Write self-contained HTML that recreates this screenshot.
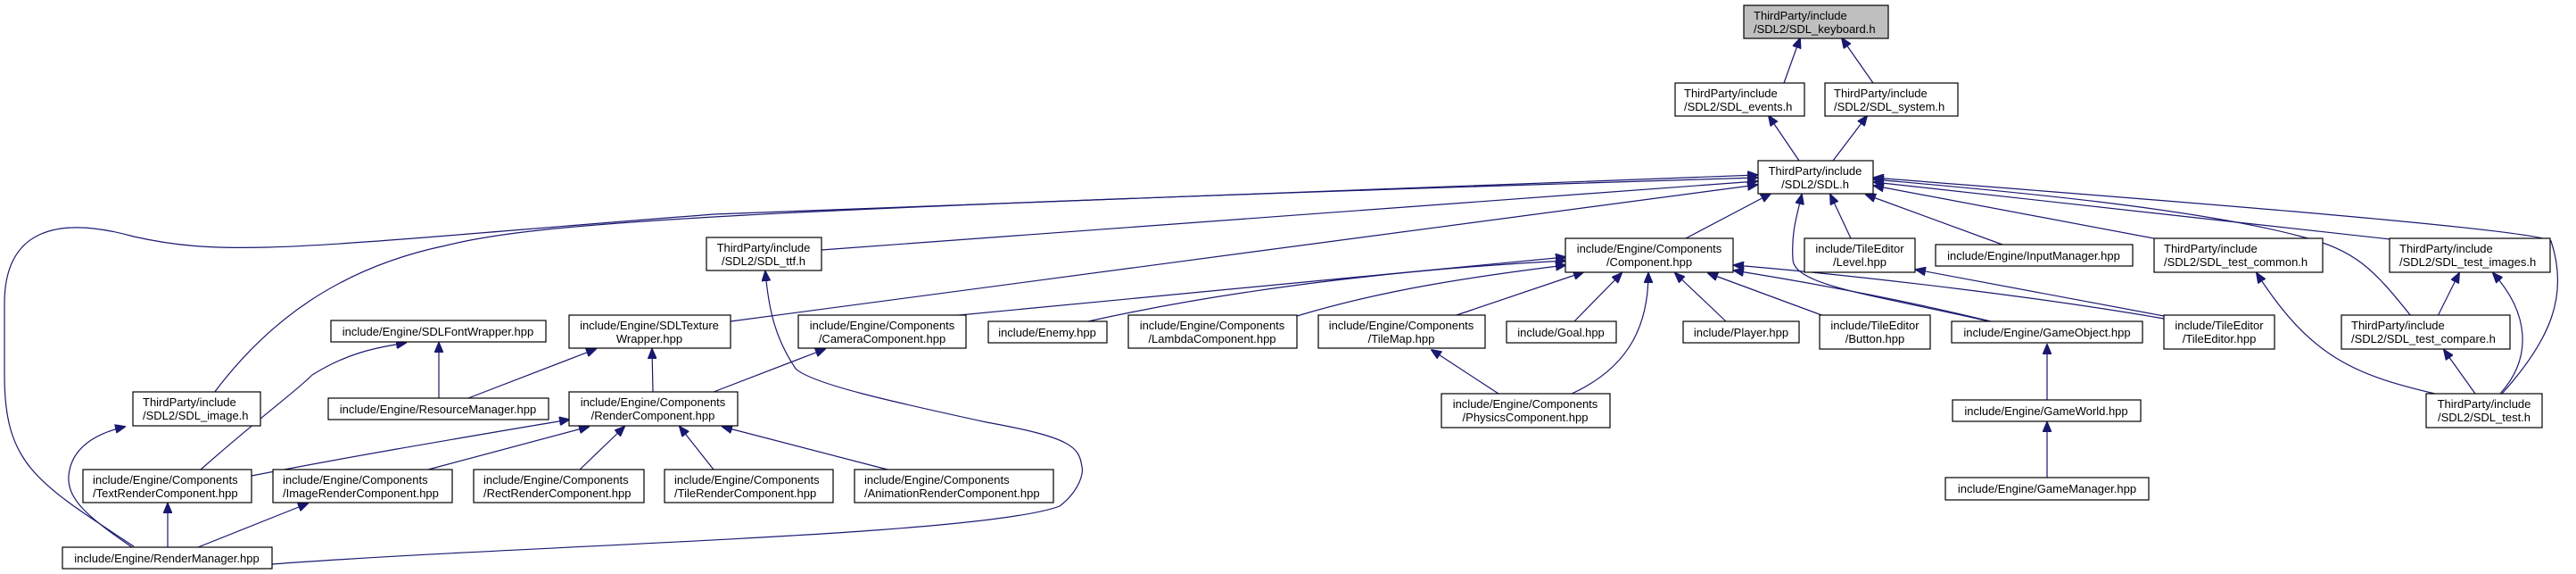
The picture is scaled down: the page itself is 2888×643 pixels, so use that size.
<!DOCTYPE html>
<html><head><meta charset="utf-8"><style>
html,body{margin:0;padding:0;background:#fff;}
svg{display:block;}
text{font-family:"Liberation Sans",sans-serif;font-size:13px;fill:#000;}
.b{fill:#fff;stroke:#000;stroke-width:1.2;}
.e{fill:none;stroke:#191970;stroke-width:1.2;}
</style></head><body>
<svg width="2888" height="643" viewBox="0 0 2888 643" xmlns="http://www.w3.org/2000/svg">
<defs><marker id="a" markerUnits="userSpaceOnUse" markerWidth="12" markerHeight="10" refX="11" refY="5" orient="auto"><path d="M0,0 L12,5 L0,10 z" fill="#191970" stroke="#191970"/></marker></defs>
<g class="e" marker-end="url(#a)">
<path d="M2000,93 L2018,43"/>
<path d="M2100,93 L2065,43"/>
<path d="M2017,180 L1983,130"/>
<path d="M2055,180 L2093,130"/>
<path d="M150,612 C40,540 5,520 5,420 L5,340 C5,260 60,240 150,265 C260,290 350,275 800,240 L1970,196"/>
<path d="M240,440 C300,360 380,300 500,275 C600,250 800,235 1970,199"/>
<path d="M921,280 L1970,203"/>
<path d="M819,360 L1970,207"/>
<path d="M1890,267 L1985,217"/>
<path d="M2230,360 C2100,330 2010,320 2010,290 C2008,260 2015,240 2020,218"/>
<path d="M2075,267 L2052,218"/>
<path d="M2245,274 L2092,218"/>
<path d="M2420,268 L2101,208"/>
<path d="M2680,268 L2101,204"/>
<path d="M2703,354 C2660,300 2640,280 2580,265 C2450,230 2200,210 2101,201"/>
<path d="M2805,441 C2860,380 2880,330 2860,270 C2840,255 2300,215 2101,199"/>
<path d="M1065,354 L1755,288"/>
<path d="M1220,360 C1400,320 1600,300 1755,292"/>
<path d="M1454,354 C1550,325 1650,310 1755,297"/>
<path d="M1630,354 L1775,305"/>
<path d="M1765,360 L1818,306"/>
<path d="M1762,441 C1830,410 1848,360 1848,306"/>
<path d="M1935,360 L1878,306"/>
<path d="M2045,354 L1915,306"/>
<path d="M2232,360 C2150,340 2050,320 1944,303"/>
<path d="M2426,357 C2300,335 2100,310 1944,297"/>
<path d="M2426,354 L2148,302"/>
<path d="M492,446 L492,384"/>
<path d="M525,446 L668,391"/>
<path d="M732,439 L731,391"/>
<path d="M800,439 L925,391"/>
<path d="M1680,441 L1605,392"/>
<path d="M225,526 C300,460 330,440 350,420 C390,395 420,390 455,384"/>
<path d="M282,533 C400,510 520,490 638,470"/>
<path d="M480,526 L660,478"/>
<path d="M650,526 L700,478"/>
<path d="M800,526 L762,478"/>
<path d="M995,526 L810,478"/>
<path d="M148,613 C100,580 75,560 77,533 C80,500 110,485 140,478"/>
<path d="M188,613 L188,564"/>
<path d="M222,613 L345,564"/>
<path d="M305,632 C600,610 1100,600 1188,567 C1210,550 1215,530 1213,523 C1210,500 1200,490 1106,473 C1000,450 910,430 892,413 C870,380 862,350 858,304"/>
<path d="M2295,448 L2295,386"/>
<path d="M2295,535 L2295,473"/>
<path d="M2730,441 C2640,420 2590,400 2530,306"/>
<path d="M2733,354 L2757,306"/>
<path d="M2803,441 C2840,400 2835,350 2795,306"/>
<path d="M2775,441 L2740,392"/>
</g>
<rect x="1955" y="6" width="162" height="37" fill="#bfbfbf" stroke="#000" stroke-width="1.2"/>
<text x="1966" y="22">ThirdParty/include</text><text x="1966" y="37">/SDL2/SDL_keyboard.h</text>
<g>
<rect class="b" x="1878" y="93" width="145" height="37"/><text x="1888" y="109">ThirdParty/include</text><text x="1888" y="124">/SDL2/SDL_events.h</text>
<rect class="b" x="2046" y="93" width="149" height="37"/><text x="2056" y="109">ThirdParty/include</text><text x="2056" y="124">/SDL2/SDL_system.h</text>
<rect class="b" x="1971" y="180" width="129" height="37"/><text x="2035" y="196" text-anchor="middle">ThirdParty/include</text><text x="2035" y="211" text-anchor="middle">/SDL2/SDL.h</text>
<rect class="b" x="792" y="266" width="129" height="37"/><text x="856" y="282" text-anchor="middle">ThirdParty/include</text><text x="856" y="297" text-anchor="middle">/SDL2/SDL_ttf.h</text>
<rect class="b" x="1755" y="267" width="188" height="38"/><text x="1849" y="283" text-anchor="middle">include/Engine/Components</text><text x="1849" y="298" text-anchor="middle">/Component.hpp</text>
<rect class="b" x="2023" y="267" width="124" height="38"/><text x="2085" y="283" text-anchor="middle">include/TileEditor</text><text x="2085" y="298" text-anchor="middle">/Level.hpp</text>
<rect class="b" x="2170" y="274" width="221" height="24"/><text x="2280" y="291" text-anchor="middle">include/Engine/InputManager.hpp</text>
<rect class="b" x="2415" y="267" width="189" height="38"/><text x="2426" y="283">ThirdParty/include</text><text x="2426" y="298">/SDL2/SDL_test_common.h</text>
<rect class="b" x="2679" y="267" width="180" height="38"/><text x="2690" y="283">ThirdParty/include</text><text x="2690" y="298">/SDL2/SDL_test_images.h</text>
<rect class="b" x="371" y="359" width="241" height="24"/><text x="491" y="376" text-anchor="middle">include/Engine/SDLFontWrapper.hpp</text>
<rect class="b" x="638" y="353" width="181" height="37"/><text x="728" y="369" text-anchor="middle">include/Engine/SDLTexture</text><text x="728" y="384" text-anchor="middle">Wrapper.hpp</text>
<rect class="b" x="895" y="353" width="188" height="37"/><text x="989" y="369" text-anchor="middle">include/Engine/Components</text><text x="989" y="384" text-anchor="middle">/CameraComponent.hpp</text>
<rect class="b" x="1108" y="360" width="133" height="24"/><text x="1174" y="377" text-anchor="middle">include/Enemy.hpp</text>
<rect class="b" x="1265" y="353" width="189" height="37"/><text x="1359" y="369" text-anchor="middle">include/Engine/Components</text><text x="1359" y="384" text-anchor="middle">/LambdaComponent.hpp</text>
<rect class="b" x="1478" y="353" width="187" height="37"/><text x="1571" y="369" text-anchor="middle">include/Engine/Components</text><text x="1571" y="384" text-anchor="middle">/TileMap.hpp</text>
<rect class="b" x="1689" y="360" width="123" height="24"/><text x="1750" y="377" text-anchor="middle">include/Goal.hpp</text>
<rect class="b" x="1887" y="360" width="130" height="24"/><text x="1952" y="377" text-anchor="middle">include/Player.hpp</text>
<rect class="b" x="2040" y="353" width="124" height="38"/><text x="2102" y="369" text-anchor="middle">include/TileEditor</text><text x="2102" y="384" text-anchor="middle">/Button.hpp</text>
<rect class="b" x="2188" y="360" width="214" height="24"/><text x="2295" y="377" text-anchor="middle">include/Engine/GameObject.hpp</text>
<rect class="b" x="2426" y="353" width="124" height="38"/><text x="2488" y="369" text-anchor="middle">include/TileEditor</text><text x="2488" y="384" text-anchor="middle">/TileEditor.hpp</text>
<rect class="b" x="2625" y="353" width="189" height="38"/><text x="2636" y="369">ThirdParty/include</text><text x="2636" y="384">/SDL2/SDL_test_compare.h</text>
<rect class="b" x="149" y="439" width="143" height="38"/><text x="160" y="455">ThirdParty/include</text><text x="160" y="470">/SDL2/SDL_image.h</text>
<rect class="b" x="368" y="446" width="247" height="24"/><text x="491" y="463" text-anchor="middle">include/Engine/ResourceManager.hpp</text>
<rect class="b" x="638" y="439" width="189" height="38"/><text x="732" y="455" text-anchor="middle">include/Engine/Components</text><text x="732" y="470" text-anchor="middle">/RenderComponent.hpp</text>
<rect class="b" x="1616" y="441" width="189" height="38"/><text x="1710" y="457" text-anchor="middle">include/Engine/Components</text><text x="1710" y="472" text-anchor="middle">/PhysicsComponent.hpp</text>
<rect class="b" x="2189" y="448" width="211" height="24"/><text x="2294" y="465" text-anchor="middle">include/Engine/GameWorld.hpp</text>
<rect class="b" x="2720" y="441" width="130" height="38"/><text x="2785" y="457" text-anchor="middle">ThirdParty/include</text><text x="2785" y="472" text-anchor="middle">/SDL2/SDL_test.h</text>
<rect class="b" x="93" y="526" width="189" height="37"/><text x="104" y="542">include/Engine/Components</text><text x="104" y="557">/TextRenderComponent.hpp</text>
<rect class="b" x="306" y="526" width="201" height="37"/><text x="317" y="542">include/Engine/Components</text><text x="317" y="557">/ImageRenderComponent.hpp</text>
<rect class="b" x="531" y="526" width="191" height="37"/><text x="542" y="542">include/Engine/Components</text><text x="542" y="557">/RectRenderComponent.hpp</text>
<rect class="b" x="745" y="526" width="189" height="37"/><text x="756" y="542">include/Engine/Components</text><text x="756" y="557">/TileRenderComponent.hpp</text>
<rect class="b" x="958" y="526" width="223" height="37"/><text x="969" y="542">include/Engine/Components</text><text x="969" y="557">/AnimationRenderComponent.hpp</text>
<rect class="b" x="2181" y="535" width="228" height="25"/><text x="2295" y="552" text-anchor="middle">include/Engine/GameManager.hpp</text>
<rect class="b" x="70" y="613" width="235" height="24"/><text x="187" y="630" text-anchor="middle">include/Engine/RenderManager.hpp</text>
</g>
</svg>
</body></html>
